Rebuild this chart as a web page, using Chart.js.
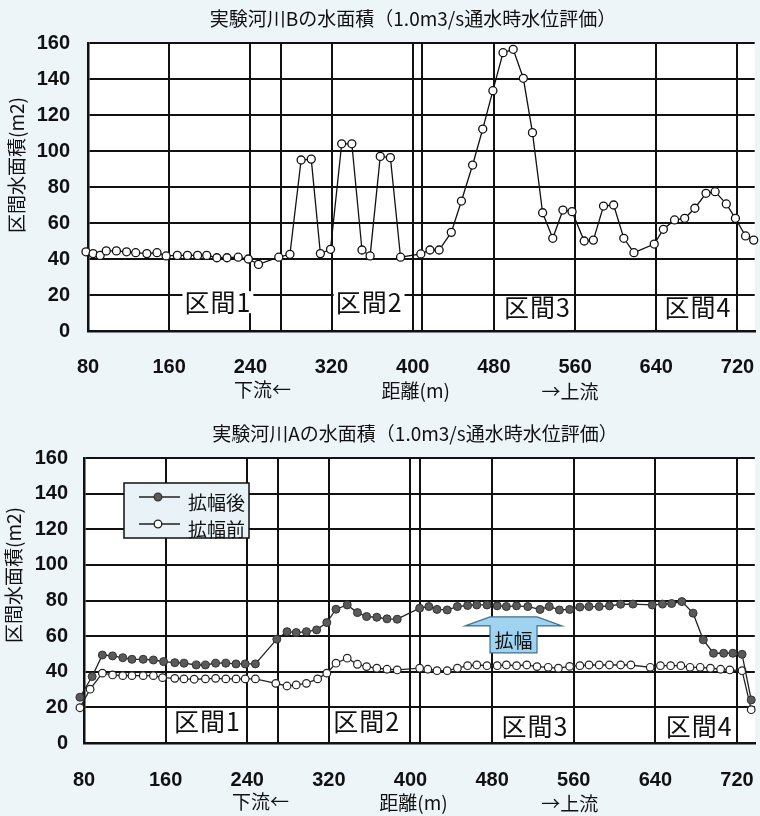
<!DOCTYPE html>
<html>
<head>
<meta charset="utf-8">
<script src="https://cdn.jsdelivr.net/npm/chart.js@4.4.1/dist/chart.umd.min.js"></script>
<style>
  html, body { margin: 0; padding: 0; background: #edf5f9; }
  #wrap { position: relative; width: 760px; height: 816px; overflow: hidden; }
  canvas { position: absolute; left: 0; }
  #cB { top: 0; }
  #cA { top: 410px; }
</style>
</head>
<body>
<div id="wrap">
  <canvas id="cB" width="760" height="410" style="width:760px;height:410px"></canvas>
  <canvas id="cA" width="760" height="406" style="width:760px;height:406px"></canvas>
</div>
<script>
// ---- 実験河川B : 区間水面積 (m2) vs 距離 (m)
const distB = [78,85,92,98,108,118,127,138,148,157,168,178,188,197,207,217,228,238,248,268,
  279,290,300,309,319,330,340,350,358,368,378,388,408,417,426,438,448,459,469,479,
  489,499,509,518,528,538,548,557,569,578,588,598,608,618,638,647,658,668,678,689,
  698,709,718,728,736];
const areaB = [44,43,42,44.5,44.5,44,43.5,43,43.5,41.7,42,42,42,42,40.7,40.7,41,40,37,41,
  42.6,95,95.5,43,45.4,104,104,45,41.7,97,96.3,41,42.8,45,45,54.8,72.2,92.2,112.2,133.5,
  154.6,156.5,140.4,110.2,65.7,51.5,67.2,66.3,50,50.5,69.4,70,51.5,43.5,48.3,56.5,61.7,62.6,68.2,76.5,
  77.4,70.6,62.6,52.8,50.5];

// ---- 実験河川A : 拡幅後 / 拡幅前
const distAafter = [76,88,98,108,118,127,138,148,158,169,178,190,199,209,219,229,238,248,269,279,
  288,298,308,318,327,338,348,357,367,377,387,409,418,426,436,446,456,465,475,485,
  494,504,515,527,536,546,556,566,575,585,595,606,618,637,647,656,666,677,687,697,
  707,716,725,734];
const areaAafter = [25.7,37.3,49.4,48.9,47.9,47,47,46.6,45.7,45.1,44.8,43.8,43.8,44.8,44.8,44.4,44.4,44.4,58.3,62.5,
  62,62.5,63.5,67.6,75.1,77.5,73.2,71,70.6,69.7,69.5,75.7,76.6,75,74.7,76.6,77.2,77.5,77.5,77,
  76.6,77,76.6,75,76.6,74.7,75,76.3,76.6,76.6,77,77.9,78,77.5,78,78.3,79.4,72.9,57.9,50.4,
  50.4,50.4,49.8,24.2];
const distAbefore = [76,86,98,108,118,127,138,148,157,169,178,188,199,209,219,229,238,248,268,279,
  288,298,309,318,327,338,348,357,367,377,387,409,417,426,436,446,456,465,475,485,
  494,504,514,524,535,545,556,566,575,585,595,606,616,635,645,655,665,674,684,694,
  704,713,725,734];
const areaAbefore = [19.8,30.2,39.2,38.2,37.8,37.8,37.8,37.8,36.7,36.3,36,35.8,36,36.3,36,36,36,36,33.5,32,
  32.6,33.5,36,39.2,44.8,47.6,44.2,42.9,42,41.4,41,42,41.4,40.6,40.6,42,43.4,43.8,43.4,43.4,
  43.8,43.4,43.8,42.9,42.5,42,43,43.4,43.8,43.8,43.8,43.8,43.8,42.5,43.4,43.4,43.4,42.5,42.5,42,
  41.4,41,40.6,18.7];

// ---- axes and labels
const xTickStep = 80;
const yTickStep = 20;
const sectionNames = ['区間1', '区間2', '区間3', '区間4'];
const sectionBoundaries = [270, 409];
const legendNames = ['拡幅後', '拡幅前'];

const JP = '"Noto Sans CJK JP", "Noto Sans CJK SC", sans-serif';
const NUM = '"Liberation Sans", Arial, sans-serif';
const INK = '#111';

const pairs = (xs, ys) => xs.map((x, i) => ({ x, y: ys[i] }));

function drawText(ctx, text, x, y, font, opts = {}) {
  ctx.save();
  ctx.font = font;
  ctx.fillStyle = INK;
  ctx.textAlign = opts.align || 'center';
  ctx.textBaseline = 'middle';
  if (opts.spacing) ctx.letterSpacing = opts.spacing;
  if (opts.rotate) {
    ctx.translate(x, y);
    ctx.rotate(opts.rotate);
    ctx.fillText(text, 0, 0);
  } else {
    if (opts.bg) {
      const w = ctx.measureText(text).width;
      ctx.fillStyle = opts.bg;
      ctx.fillRect(x - w / 2 - 2, y - 11, w + 4, 22);
      ctx.fillStyle = INK;
    }
    ctx.fillText(text, x, y);
  }
  ctx.restore();
}

// decorations drawn with the chart's own scales
const deco = {
  id: 'deco',
  beforeDraw(chart) {
    const { ctx, chartArea: ca } = chart;
    ctx.save();
    ctx.fillStyle = '#ffffff';
    ctx.fillRect(ca.left, ca.top, ca.right - ca.left, ca.bottom - ca.top);
    ctx.restore();
  },
  beforeDatasetsDraw(chart, args, o) {
    const { ctx, scales: { x, y }, chartArea: ca } = chart;
    ctx.save();
    ctx.strokeStyle = INK;
    ctx.lineWidth = 2;
    sectionBoundaries.forEach(v => {
      const px = Math.round(x.getPixelForValue(v));
      ctx.beginPath();
      ctx.moveTo(px, ca.top);
      ctx.lineTo(px, ca.bottom);
      ctx.stroke();
    });
    ctx.restore();
    sectionNames.forEach((t, i) => {
      drawText(ctx, t, x.getPixelForValue(o.secX[i]), y.getPixelForValue(o.secY[i]),
        '25px ' + JP, { spacing: '1px', bg: o.secBg });
    });
    if (o.arrow) {
      const cx = x.getPixelForValue(o.arrow.x);
      const yTop = y.getPixelForValue(o.arrow.top);
      const yNeck = y.getPixelForValue(o.arrow.neck);
      const yBot = y.getPixelForValue(o.arrow.bottom);
      const bw = 23.5, hw = 48.5;
      ctx.save();
      ctx.beginPath();
      ctx.moveTo(cx - bw, yTop);
      ctx.lineTo(cx + bw, yTop);
      ctx.lineTo(cx + hw, yNeck);
      ctx.lineTo(cx + bw, yNeck);
      ctx.lineTo(cx + bw, yBot);
      ctx.lineTo(cx - bw, yBot);
      ctx.lineTo(cx - bw, yNeck);
      ctx.lineTo(cx - hw, yNeck);
      ctx.closePath();
      ctx.fillStyle = '#9fd3ef';
      ctx.fill();
      ctx.strokeStyle = '#3d6f8e';
      ctx.lineWidth = 1.2;
      ctx.stroke();
      ctx.restore();
      drawText(ctx, '拡幅', cx, (yNeck + yBot) / 2 + 1, '19px ' + JP);
    }
  },
  afterDraw(chart, args, o) {
    const { ctx, scales: { x }, chartArea: ca } = chart;
    drawText(ctx, o.title, o.titleX, o.titleY, '19px ' + JP);
    drawText(ctx, '区間水面積(m2)', o.yTitleX, o.yTitleY, '19px ' + JP, { rotate: -Math.PI / 2 });
    const base = o.subY;
    drawText(ctx, '下流←', x.getPixelForValue(o.subX[0]), base, '19px ' + JP);
    drawText(ctx, '距離(m)', x.getPixelForValue(o.subX[1]), base + 1, '19px ' + JP);
    drawText(ctx, '→上流', x.getPixelForValue(o.subX[2]), base + 2, '19px ' + JP);
    if (o.legend) {
      const L = ca.left + 40, T = ca.top + 25, W = 125, H = 55;
      ctx.save();
      ctx.fillStyle = '#e8f2f7';
      ctx.fillRect(L, T, W, H);
      ctx.strokeStyle = INK;
      ctx.lineWidth = 1.5;
      ctx.strokeRect(L, T, W, H);
      chart.data.datasets.forEach((ds, i) => {
        const ly = T + 14 + i * 27;
        ctx.strokeStyle = ds.borderColor;
        ctx.lineWidth = 1.3;
        ctx.beginPath();
        ctx.moveTo(L + 15, ly);
        ctx.lineTo(L + 56, ly);
        ctx.stroke();
        ctx.beginPath();
        ctx.arc(L + 34, ly, 3.8, 0, Math.PI * 2);
        ctx.fillStyle = ds.pointBackgroundColor;
        ctx.fill();
        ctx.strokeStyle = ds.pointBorderColor;
        ctx.stroke();
        drawText(ctx, legendNames[i], L + 64, ly + 6, '19px ' + JP, { align: 'left' });
      });
      ctx.restore();
    }
  }
};

function baseOptions(axisWidth, axisHeight, topPad, xMax, yPad, xPad, decoOpts) {
  return {
    responsive: false,
    animation: false,
    layout: { padding: { top: topPad, left: 0, right: 0, bottom: 0 } },
    plugins: { legend: { display: false }, tooltip: { enabled: false }, deco: decoOpts },
    scales: {
      x: {
        type: 'linear', min: 80, max: xMax,
        ticks: { stepSize: xTickStep, includeBounds: false, padding: xPad, color: INK,
                 font: { family: NUM, size: 20, weight: 'bold' } },
        grid: { color: INK, lineWidth: 2, drawTicks: false },
        border: { color: INK, width: 2.5 },
        afterFit(s) { s.height = axisHeight; s.paddingLeft = 0; s.paddingRight = 0; }
      },
      y: {
        min: 0, max: 160,
        ticks: { stepSize: yTickStep, padding: yPad, color: INK,
                 font: { family: NUM, size: 20, weight: 'bold' } },
        grid: { color: INK, lineWidth: 2, drawTicks: false },
        border: { color: INK, width: 2.5 },
        afterFit(s) { s.width = axisWidth; s.paddingTop = 0; s.paddingBottom = 0; }
      }
    }
  };
}

new Chart(document.getElementById('cB'), {
  type: 'line',
  data: {
    datasets: [{
      data: pairs(distB, areaB),
      borderColor: INK, borderWidth: 1.3, tension: 0, clip: false,
      pointRadius: 4, pointBorderWidth: 1.3,
      pointBackgroundColor: '#ffffff', pointBorderColor: INK
    }]
  },
  options: baseOptions(88, 79, 43, 737, 18, 24, {
    title: '実験河川Bの水面積（1.0m3/s通水時水位評価）', titleX: 413, titleY: 19,
    yTitleX: 17, yTitleY: 165,
    subX: [252, 403, 555], subY: 390,
    secX: [208, 357, 523, 681], secY: [16, 16, 13, 13], secBg: '#ffffff'
  }),
  plugins: [deco]
});

new Chart(document.getElementById('cA'), {
  type: 'line',
  data: {
    datasets: [{
      data: pairs(distAafter, areaAafter),
      borderColor: '#222', borderWidth: 1.3, tension: 0, clip: false,
      pointRadius: 4, pointBorderWidth: 1,
      pointBackgroundColor: '#5a5a5a', pointBorderColor: '#333'
    }, {
      data: pairs(distAbefore, areaAbefore),
      borderColor: '#222', borderWidth: 1.3, tension: 0, clip: false,
      pointRadius: 3.8, pointBorderWidth: 1.2,
      pointBackgroundColor: '#ffffff', pointBorderColor: '#222'
    }]
  },
  options: baseOptions(84, 73, 48, 737.5, 16, 25, {
    title: '実験河川Aの水面積（1.0m3/s通水時水位評価）', titleX: 415, titleY: 24,
    yTitleX: 14, yTitleY: 165,
    subX: [253, 403, 556], subY: 392,
    secX: [201, 357, 522, 683], secY: [12, 12, 9, 9], secBg: null,
    legend: true,
    arrow: { x: 501, top: 70.8, neck: 65.7, bottom: 50.6 }
  }),
  plugins: [deco]
});
</script>
</body>
</html>
